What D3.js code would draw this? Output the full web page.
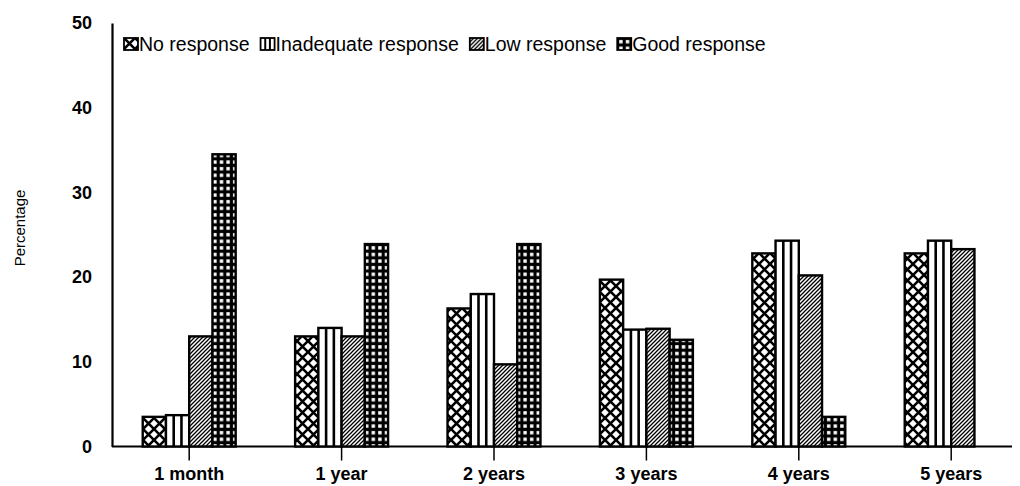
<!DOCTYPE html>
<html>
<head>
<meta charset="utf-8">
<script src="https://cdn.jsdelivr.net/npm/d3@7"></script>
<style>
  body { margin: 0; background: #fff; }
  text { font-family: "Liberation Sans", Arial, Helvetica, sans-serif; fill: #000; }
</style>
</head>
<body>
<div id="chart"></div>
<script>
// Response over time, grouped bars with hatch patterns

const categories = ["1 month", "1 year", "2 years", "3 years", "4 years", "5 years"];
const seriesNames = ["No response", "Inadequate response", "Low response", "Good response"];
const noResponse = [3.5, 13.0, 16.3, 19.7, 22.8, 22.8];
const inadequateResponse = [3.7, 14.0, 18.0, 13.8, 24.3, 24.3];
const lowResponse = [13.0, 13.0, 9.7, 13.9, 20.2, 23.3];
const goodResponse = [34.5, 23.9, 23.9, 12.6, 3.5, null];
const yTicks = [0, 10, 20, 30, 40, 50];

const seriesValues = [noResponse, inadequateResponse, lowResponse, goodResponse];
const patternIds = ["pat-cross", "pat-vert", "pat-diag", "pat-grid"];

const W = 1020, H = 486;
const margin = {top: 23, right: 8, bottom: 40, left: 112};

const svg = d3.select("#chart")
    .append("svg")
    .attr("width", W)
    .attr("height", H);

// patterns
const defs = svg.append("defs");

const cross = defs.append("pattern")
    .attr("id", "pat-cross")
    .attr("patternUnits", "userSpaceOnUse")
    .attr("width", 11).attr("height", 11);
cross.append("rect").attr("width", 11).attr("height", 11).attr("fill", "#fff");
cross.append("path")
    .attr("d", "M0,0L11,11M11,0L0,11M-1,10L1,12M10,-1L12,1")
    .attr("stroke", "#000").attr("stroke-width", 2.6);

const vert = defs.append("pattern")
    .attr("id", "pat-vert")
    .attr("patternUnits", "userSpaceOnUse")
    .attr("width", 10).attr("height", 10);
vert.append("rect").attr("width", 10).attr("height", 10).attr("fill", "#fff");

const diag = defs.append("pattern")
    .attr("id", "pat-diag")
    .attr("patternUnits", "userSpaceOnUse")
    .attr("width", 4).attr("height", 4);
diag.append("rect").attr("width", 4).attr("height", 4).attr("fill", "#fff");
diag.append("path")
    .attr("d", "M0,4L4,0M-1,1L1,-1M3,5L5,3")
    .attr("stroke", "#000").attr("stroke-width", 1.3);

const grid = defs.append("pattern")
    .attr("id", "pat-grid")
    .attr("patternUnits", "userSpaceOnUse")
    .attr("width", 6.6).attr("height", 6.6);
grid.append("rect").attr("width", 6.6).attr("height", 6.6).attr("fill", "#000");
grid.append("rect").attr("x", 2).attr("y", 2).attr("width", 3.4).attr("height", 3.4).attr("fill", "#fff");

// scales
const x0 = d3.scaleBand()
    .domain(categories)
    .range([margin.left + 1, margin.left + 1 + 6 * 152.4])
    .paddingInner(0.39)
    .paddingOuter(0.195);

const x1 = d3.scaleBand()
    .domain(seriesNames)
    .range([0, x0.bandwidth()]);

const y = d3.scaleLinear()
    .domain([0, 50])
    .range([446.5, margin.top]);

// y axis
const yAxis = svg.append("g")
    .attr("transform", `translate(${margin.left},0)`)
    .call(d3.axisLeft(y).tickValues(yTicks).tickSize(0).tickPadding(20));
yAxis.select(".domain").attr("stroke", "#000").attr("stroke-width", 2.2);
yAxis.selectAll("text")
    .style("font-size", "18px")
    .style("font-weight", "bold");

// x axis
const xAxis = svg.append("g")
    .attr("transform", `translate(0,${y(0)})`)
    .call(d3.axisBottom(x0).tickSize(14).tickSizeOuter(0).tickPadding(7));
xAxis.select(".domain").remove();
xAxis.selectAll(".tick line").attr("stroke", "#000").attr("stroke-width", 1.5);
xAxis.selectAll("text")
    .style("font-size", "18px")
    .style("font-weight", "bold");

xAxis.append("line")
    .attr("x1", margin.left)
    .attr("x2", W - margin.right)
    .attr("stroke", "#000")
    .attr("stroke-width", 2.2);

// y axis title
svg.append("text")
    .attr("transform", `translate(25,228) rotate(-90)`)
    .attr("text-anchor", "middle")
    .style("font-size", "15px")
    .text("Percentage");

// bars
const bw = x1.bandwidth();
seriesNames.forEach((name, si) => {
    const rows = categories.map((c, i) => ({cat: c, value: seriesValues[si][i]}))
        .filter(d => d.value != null);

    const g = svg.append("g").attr("class", "series");

    g.selectAll("rect")
        .data(rows)
        .enter()
        .append("rect")
        .attr("x", d => x0(d.cat) + x1(name))
        .attr("y", d => y(d.value))
        .attr("width", bw)
        .attr("height", d => y(0) - y(d.value))
        .attr("fill", `url(#${patternIds[si]})`)
        .attr("stroke", "#000")
        .attr("stroke-width", 2.4);

    // vertical stripes for the inadequate response bars
    if (si === 1) {
        [1 / 3, 2 / 3].forEach(f => {
            g.selectAll(null)
                .data(rows)
                .enter()
                .append("line")
                .attr("x1", d => x0(d.cat) + x1(name) + bw * f)
                .attr("x2", d => x0(d.cat) + x1(name) + bw * f)
                .attr("y1", d => y(d.value))
                .attr("y2", y(0))
                .attr("stroke", "#000")
                .attr("stroke-width", 2.6);
        });
    }
});

// legend
const legend = svg.append("g")
    .attr("transform", "translate(124,38)");

let lx = 0;
seriesNames.forEach((name, si) => {
    const item = legend.append("g").attr("transform", `translate(${lx},0)`);
    item.append("rect")
        .attr("width", 14)
        .attr("height", 12)
        .attr("fill", `url(#${patternIds[si]})`)
        .attr("stroke", "#000")
        .attr("stroke-width", 1.8);
    if (si === 1) {
        [14 / 3, 28 / 3].forEach(px => {
            item.append("line")
                .attr("x1", px).attr("x2", px)
                .attr("y1", 0).attr("y2", 12)
                .attr("stroke", "#000")
                .attr("stroke-width", 2);
        });
    }
    const t = item.append("text")
        .attr("x", 15)
        .attr("y", 13)
        .style("font-size", "19.5px")
        .text(name);
    lx += 15 + t.node().getComputedTextLength() + 11;
});
</script>
</body>
</html>
